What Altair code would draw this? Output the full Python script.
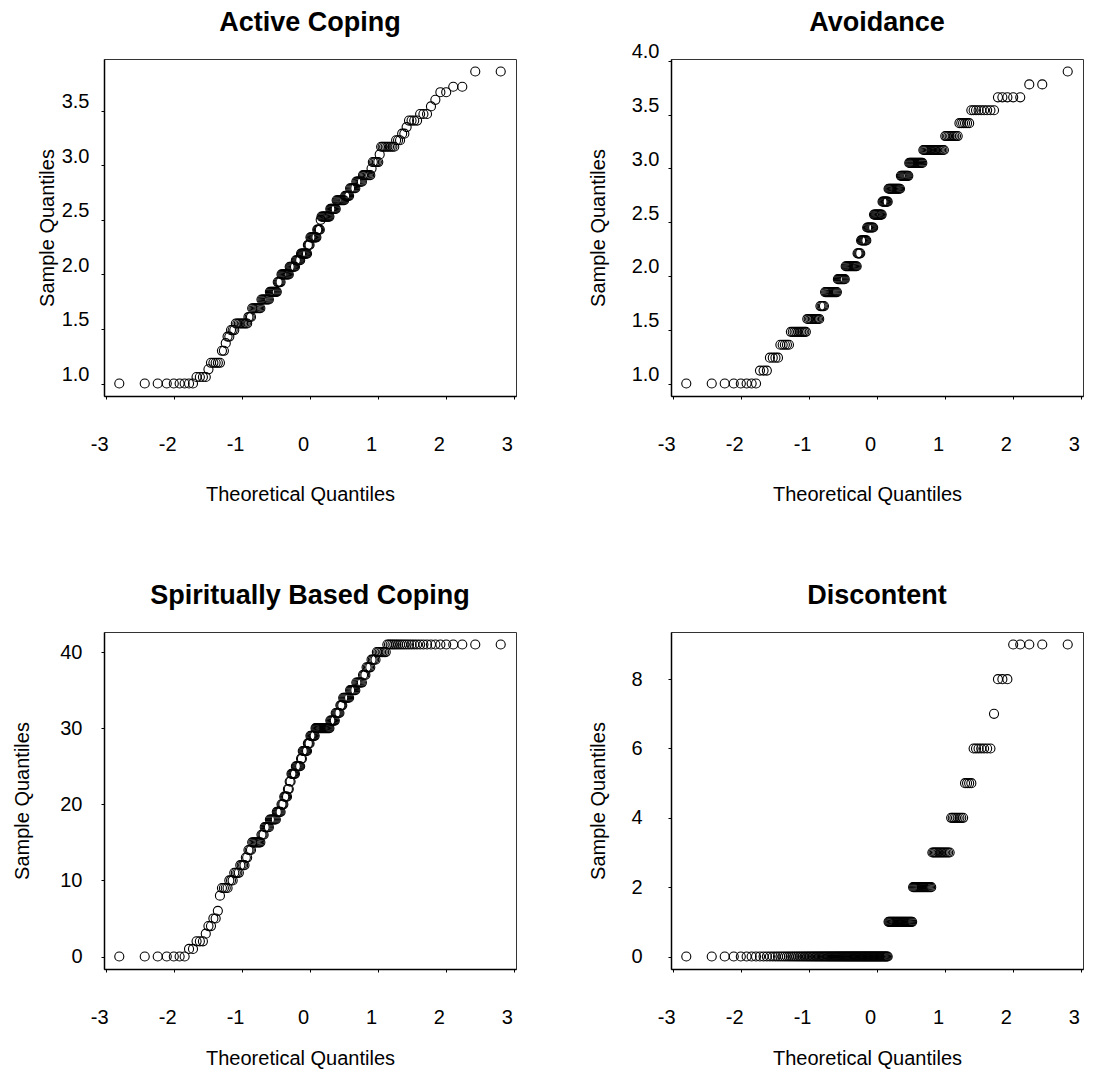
import altair as alt
import pandas as pd

# ---------------- data (sorted sample values, counts) -------------
active_levels = [1.00, 1.06, 1.13, 1.19, 1.30, 1.37, 1.43, 1.49, 1.55, 1.61,
                 1.69, 1.77, 1.84, 1.93, 2.00, 2.07, 2.13, 2.19, 2.27, 2.34,
                 2.41, 2.50, 2.53, 2.60, 2.68, 2.72, 2.79, 2.85, 2.91, 2.97,
                 3.03, 3.10, 3.17, 3.23, 3.29, 3.35, 3.41, 3.47, 3.54, 3.60,
                 3.67, 3.72, 3.86]
active_counts = [9, 4, 1, 5, 2, 1, 2, 3, 9, 3,
                 8, 8, 8, 4, 9, 7, 6, 8, 3, 8,
                 4, 1, 10, 7, 9, 5, 6, 6, 7, 1,
                 5, 1, 9, 3, 2, 1, 4, 3, 1, 1,
                 2, 2, 2]

avoid_levels = [1.00, 1.12, 1.24, 1.36, 1.48, 1.60, 1.72, 1.85, 1.97, 2.09,
                2.21, 2.33, 2.45, 2.57, 2.69, 2.81, 2.93, 3.05, 3.17, 3.30,
                3.42, 3.54, 3.66, 3.78, 3.90]
avoid_counts = [8, 3, 4, 5, 10, 10, 4, 12, 8, 13,
                4, 7, 8, 10, 7, 14, 9, 14, 18, 9,
                6, 9, 5, 2, 1]

spirit_levels = [0, 1, 2, 3, 4, 5, 6, 8, 9, 10,
                 11, 12, 13, 14, 15, 16, 17, 18, 19, 20,
                 21, 22, 23, 24, 25, 26, 27, 28, 29, 30,
                 31, 32, 33, 34, 35, 36, 37, 38, 39, 40, 41]
spirit_counts = [7, 2, 3, 1, 2, 2, 1, 1, 4, 3,
                 4, 4, 2, 3, 8, 3, 5, 7, 5, 3,
                 4, 2, 2, 5, 6, 2, 6, 3, 6, 17,
                 6, 5, 3, 7, 6, 6, 3, 4, 4, 7, 26]

discont_levels = [0, 1, 2, 3, 4, 5, 6, 7, 8, 9]
discont_counts = [113, 27, 18, 14, 8, 4, 7, 1, 3, 5]

x_ticks = [-3, -2, -1, 0, 1, 2, 3]
active_ticks = [1.0, 1.5, 2.0, 2.5, 3.0, 3.5]
avoid_ticks = [1.0, 1.5, 2.0, 2.5, 3.0, 3.5, 4.0]
spirit_ticks = [0, 10, 20, 30, 40]
discont_ticks = [0, 2, 4, 6, 8]

FONT = "Liberation Sans"
W, H = 412, 337


def panel(title, levels, counts, yticks, yfmt, ytitle_x, ylab_pad, ylab_off,
          title_off, xtitle_y):
    values = [lv for lv, c in zip(levels, counts) for _ in range(c)]
    df = pd.DataFrame({"value": values})
    lo, hi = min(levels), max(levels)
    pad = 0.04 * (hi - lo)
    return (
        alt.Chart(df)
        .transform_window(rank="row_number()", sort=[alt.SortField("value", order="ascending")])
        .transform_joinaggregate(n="count()")
        .transform_calculate(theo="quantileNormal((datum.rank - 0.5) / datum.n)")
        .mark_point(shape="circle", filled=False, size=82, color="black",
                    strokeWidth=1.1, opacity=1)
        .encode(
            x=alt.X("theo:Q",
                    scale=alt.Scale(domain=[-3.032, 3.032], nice=False, zero=False),
                    axis=alt.Axis(values=x_ticks, grid=False,
                                  domain=True, domainColor="black", domainWidth=1.5,
                                  tickSize=3, tickColor="black",
                                  labelExpr="datum.value < 0 ? '-' + abs(datum.value) : '' + datum.value",
                                  labelFontSize=20, labelColor="black", labelOffset=-7,
                                  labelBaseline="middle", labelPadding=45,
                                  labelOverlap=False, labelFlush=False,
                                  title="Theoretical Quantiles", titleFontSize=20,
                                  titleFontWeight="normal", titleColor="black",
                                  titleX=W / 2 - 10, titleY=xtitle_y,
                                  titleBaseline="alphabetic", titleAlign="center")),
            y=alt.Y("value:Q",
                    scale=alt.Scale(domain=[lo - pad, hi + pad], nice=False, zero=False),
                    axis=alt.Axis(values=yticks, format=yfmt, grid=False,
                                  domain=True, domainColor="black", domainWidth=1.5,
                                  tickSize=3, tickColor="black",
                                  labelFontSize=20, labelColor="black",
                                  labelAlign="right", labelBaseline="middle",
                                  labelPadding=ylab_pad, labelOffset=ylab_off,
                                  labelOverlap=False, labelFlush=False,
                                  title="Sample Quantiles", titleFontSize=20,
                                  titleFontWeight="normal", titleColor="black",
                                  titleAngle=270, titleX=ytitle_x, titleY=H / 2,
                                  titleBaseline="alphabetic", titleAlign="center")),
        )
        .properties(
            width=W, height=H,
            title=alt.TitleParams(title, fontSize=27, fontWeight="bold", color="black",
                                  anchor="middle", frame="group", offset=title_off,
                                  baseline="alphabetic"),
        )
    )


p1 = panel("Active Coping", active_levels, active_counts, active_ticks, ".1f", -51, 12, -9, 1, 104)
p2 = panel("Avoidance", avoid_levels, avoid_counts, avoid_ticks, ".1f", -67, 9, -9, -16, 104)
p3 = panel("Spiritually Based Coping", spirit_levels, spirit_counts, spirit_ticks, "d", -76, 19, 0, 1, 95)
p4 = panel("Discontent", discont_levels, discont_counts, discont_ticks, "d", -67, 26, 0, 1, 95)

chart = (
    alt.concat(p1, p2, p3, p4, columns=2, spacing={"row": 236, "column": 155}, bounds="flush")
    .properties(padding={"left": 3, "top": 0, "right": 0, "bottom": 0})
    .configure(font=FONT)
    .configure_view(stroke="#333333", strokeWidth=1)
)

chart.save("out.html", embed_options={"renderer": "svg", "actions": False})
